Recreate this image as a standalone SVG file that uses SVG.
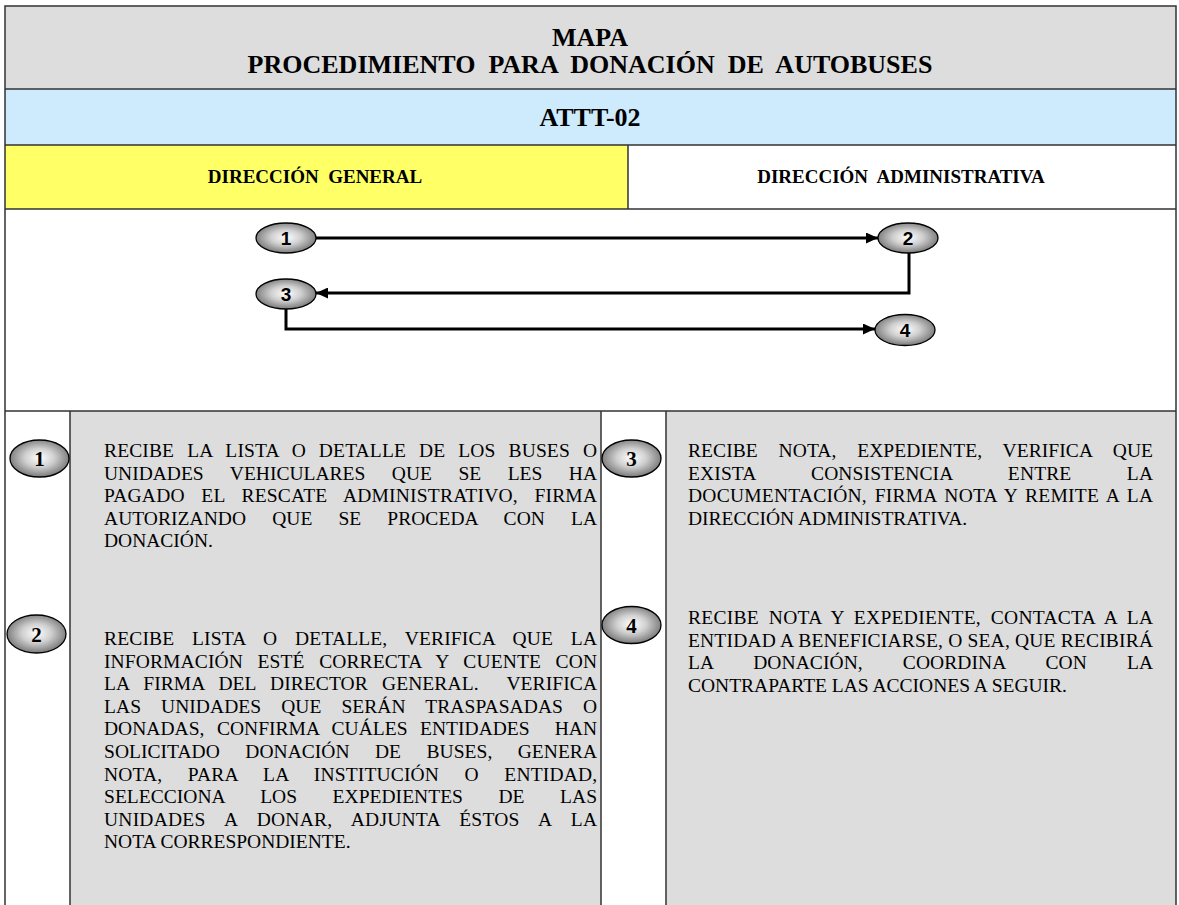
<svg xmlns="http://www.w3.org/2000/svg" width="1179" height="905" viewBox="0 0 1179 905">
<style>
.frame{stroke:#333;stroke-width:1.5;fill:none}
.ttl{font-family:"Liberation Serif","Times New Roman",serif;font-weight:bold;fill:#000;text-anchor:middle}
.lane{font-family:"Liberation Serif","Times New Roman",serif;font-weight:bold;font-size:19px;fill:#000;text-anchor:middle}
.body{font-family:"Liberation Serif","Times New Roman",serif;font-size:19.5px;fill:#000}
.num{font-family:"Liberation Sans",Arial,sans-serif;font-weight:bold;font-size:19px;fill:#000;text-anchor:middle}
.num2{font-family:"Liberation Serif","Times New Roman",serif;font-weight:bold;font-size:21px;fill:#000;text-anchor:middle}
.oval{fill:url(#g);stroke:#000;stroke-width:1.3}
.conn{fill:none;stroke:#000;stroke-width:3}
</style>
<defs>
<radialGradient id="g" cx="50%" cy="48%" r="55%">
<stop offset="0" stop-color="#ffffff"/>
<stop offset="0.45" stop-color="#d0d0d0"/>
<stop offset="1" stop-color="#707070"/>
</radialGradient>
<marker id="ah" markerUnits="userSpaceOnUse" markerWidth="12" markerHeight="11" refX="12" refY="5.5" orient="auto">
<path d="M0,0 L12,5.5 L0,11 z" fill="#000"/>
</marker>
</defs>
<rect x="0" y="0" width="1179" height="905" fill="#fff"/>
<!-- bands -->
<rect x="5" y="6" width="1171" height="83" fill="#dddddd"/>
<rect x="5" y="89" width="1171" height="56" fill="#cdebfd"/>
<rect x="5" y="145" width="623" height="64" fill="#ffff66"/>
<rect x="70" y="411" width="531" height="494" fill="#dddddd"/>
<rect x="666" y="411" width="510" height="494" fill="#dddddd"/>
<!-- lines -->
<path class="frame" d="M5,906 V6 H1176 V906 M5,89 H1176 M5,145 H1176 M5,209 H1176 M628,145 V209 M5,411 H1176 M70,411 V906 M601,411 V906 M666,411 V906"/>
<!-- headers -->
<text class="ttl" x="590" y="46" font-size="26">MAPA</text>
<text class="ttl" x="590" y="73" font-size="26" xml:space="preserve">PROCEDIMIENTO  PARA  DONACIÓN  DE  AUTOBUSES</text>
<text class="ttl" x="590" y="126" font-size="26">ATTT-02</text>
<text class="lane" x="315" y="183" xml:space="preserve">DIRECCIÓN  GENERAL</text>
<text class="lane" x="901" y="183" xml:space="preserve">DIRECCIÓN  ADMINISTRATIVA</text>
<!-- connectors -->
<g id="connectors">
<path class="conn" d="M316,238 H878" marker-end="url(#ah)"/>
<path class="conn" d="M909,253 V293 H316" marker-end="url(#ah)"/>
<path class="conn" d="M286,309 V329 H875" marker-end="url(#ah)"/>
</g>
<!-- flow nodes -->
<g id="n1"><ellipse class="oval" cx="286" cy="238" rx="30" ry="15"/><text class="num" x="286" y="245">1</text></g>
<g id="n2"><ellipse class="oval" cx="908" cy="238" rx="30" ry="15"/><text class="num" x="908" y="245">2</text></g>
<g id="n3"><ellipse class="oval" cx="286" cy="294" rx="30" ry="15"/><text class="num" x="286" y="301">3</text></g>
<g id="n4"><ellipse class="oval" cx="905" cy="330" rx="30" ry="15.5"/><text class="num" x="905" y="337">4</text></g>
<!-- step descriptions -->
<g id="s1">
<ellipse class="oval" cx="39.5" cy="458.5" rx="29.5" ry="18.5"/><text class="num2" x="39.5" y="466">1</text>
<text class="body" x="104" y="457" style="word-spacing:8px" textLength="493" lengthAdjust="spacing">RECIBE LA LISTA O DETALLE DE LOS BUSES O</text>
<text class="body" x="104" y="479.6" style="word-spacing:21.6px" textLength="493" lengthAdjust="spacing">UNIDADES VEHICULARES QUE SE LES HA</text>
<text class="body" x="104" y="502.2" style="word-spacing:11.5px" textLength="493" lengthAdjust="spacing">PAGADO EL RESCATE ADMINISTRATIVO, FIRMA</text>
<text class="body" x="104" y="524.8" style="word-spacing:21.1px" textLength="493" lengthAdjust="spacing">AUTORIZANDO QUE SE PROCEDA CON LA</text>
<text class="body" x="104" y="547.4">DONACIÓN.</text>
</g>
<g id="s2">
<ellipse class="oval" cx="36.5" cy="634" rx="29.5" ry="19"/><text class="num2" x="36.5" y="641.5">2</text>
<text class="body" x="104" y="645" style="word-spacing:12.7px" textLength="493" lengthAdjust="spacing">RECIBE LISTA O DETALLE, VERIFICA QUE LA</text>
<text class="body" x="104" y="667.6" style="word-spacing:9.6px" textLength="493" lengthAdjust="spacing">INFORMACIÓN ESTÉ CORRECTA Y CUENTE CON</text>
<text class="body" x="104" y="690.2" style="word-spacing:9.1px" textLength="493" lengthAdjust="spacing" xml:space="preserve">LA FIRMA DEL DIRECTOR GENERAL.  VERIFICA</text>
<text class="body" x="104" y="712.8" style="word-spacing:15px" textLength="493" lengthAdjust="spacing">LAS UNIDADES QUE SERÁN TRASPASADAS O</text>
<text class="body" x="104" y="735.4" style="word-spacing:7.6px" textLength="493" lengthAdjust="spacing" xml:space="preserve">DONADAS, CONFIRMA CUÁLES ENTIDADES  HAN</text>
<text class="body" x="104" y="758" style="word-spacing:20.5px" textLength="493" lengthAdjust="spacing">SOLICITADO DONACIÓN DE BUSES, GENERA</text>
<text class="body" x="104" y="780.6" style="word-spacing:20.5px" textLength="493" lengthAdjust="spacing">NOTA, PARA LA INSTITUCIÓN O ENTIDAD,</text>
<text class="body" x="104" y="803.2" style="word-spacing:30.6px" textLength="493" lengthAdjust="spacing">SELECCIONA LOS EXPEDIENTES DE LAS</text>
<text class="body" x="104" y="825.8" style="word-spacing:14.4px" textLength="493" lengthAdjust="spacing">UNIDADES A DONAR, ADJUNTA ÉSTOS A LA</text>
<text class="body" x="104" y="848.4">NOTA CORRESPONDIENTE.</text>
</g>
<g id="s3">
<ellipse class="oval" cx="631.5" cy="458.5" rx="29.5" ry="18.5"/><text class="num2" x="631.5" y="466">3</text>
<text class="body" x="688" y="457" style="word-spacing:15.8px" textLength="465" lengthAdjust="spacing">RECIBE NOTA, EXPEDIENTE, VERIFICA QUE</text>
<text class="body" x="688" y="479.6" style="word-spacing:50.5px" textLength="465" lengthAdjust="spacing">EXISTA CONSISTENCIA ENTRE LA</text>
<text class="body" x="688" y="502.2" style="word-spacing:2.6px" textLength="465" lengthAdjust="spacing">DOCUMENTACIÓN, FIRMA NOTA Y REMITE A LA</text>
<text class="body" x="688" y="524.8">DIRECCIÓN ADMINISTRATIVA.</text>
</g>
<g id="s4">
<ellipse class="oval" cx="631.5" cy="625" rx="29.5" ry="18.5"/><text class="num2" x="631.5" y="632.5">4</text>
<text class="body" x="688" y="624" style="word-spacing:4.6px" textLength="465" lengthAdjust="spacing">RECIBE NOTA Y EXPEDIENTE, CONTACTA A LA</text>
<text class="body" x="688" y="646.6" textLength="465" lengthAdjust="spacing">ENTIDAD A BENEFICIARSE, O SEA, QUE RECIBIRÁ</text>
<text class="body" x="688" y="669.2" style="word-spacing:35.1px" textLength="465" lengthAdjust="spacing">LA DONACIÓN, COORDINA CON LA</text>
<text class="body" x="688" y="691.8">CONTRAPARTE LAS ACCIONES A SEGUIR.</text>
</g>
</svg>
